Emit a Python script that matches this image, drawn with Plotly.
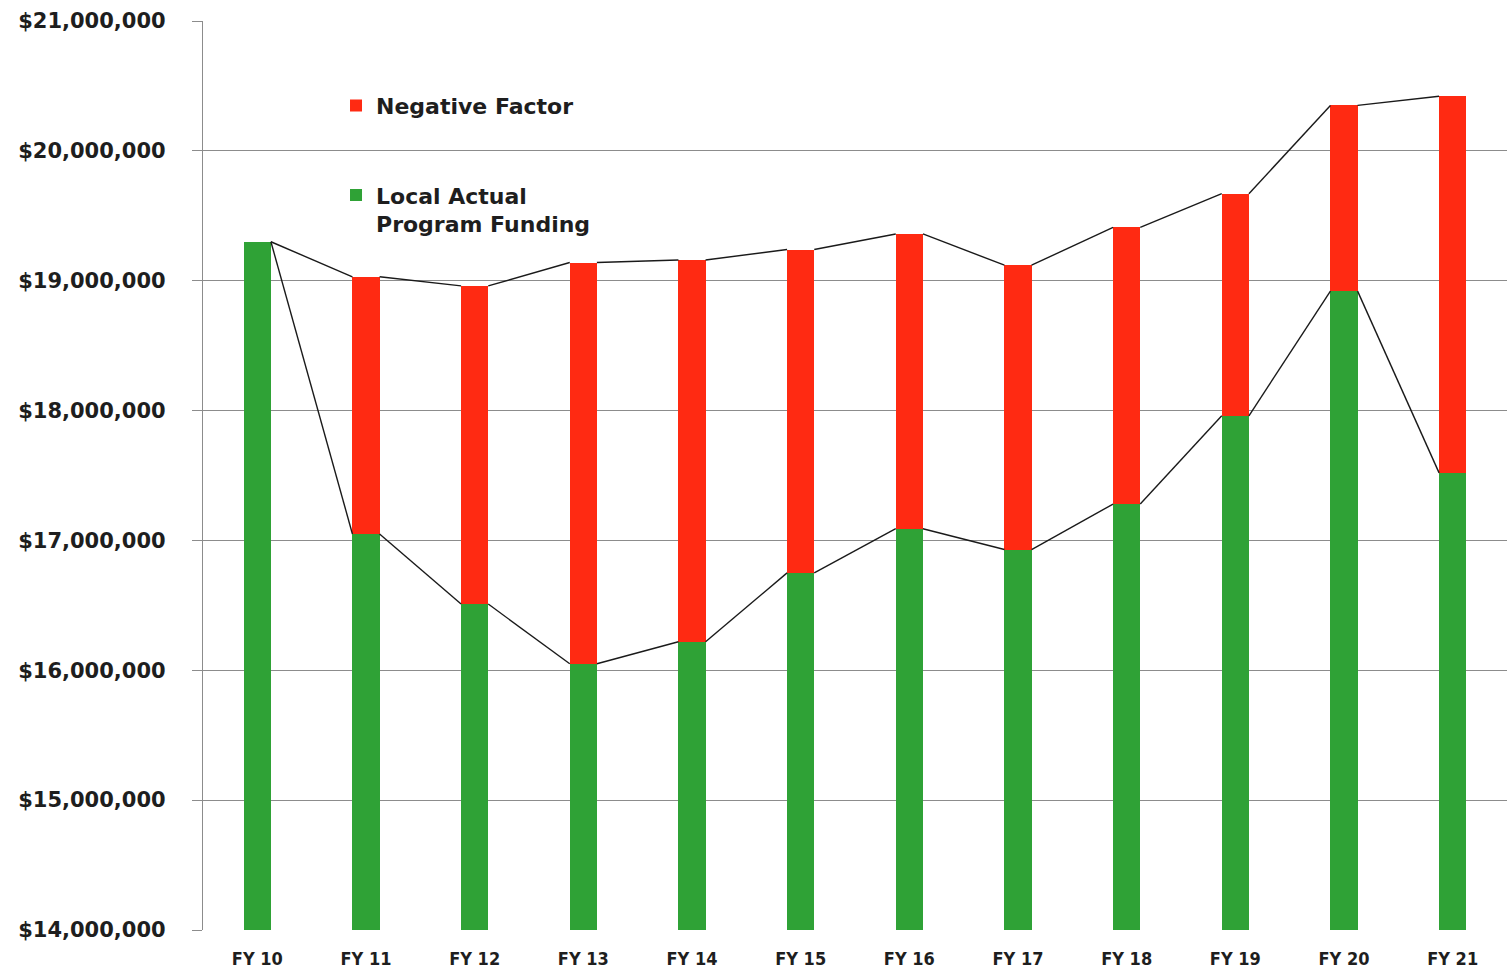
import plotly.graph_objects as go

# Fiscal years shown on the category axis
years = ["FY 10", "FY 11", "FY 12", "FY 13", "FY 14", "FY 15",
         "FY 16", "FY 17", "FY 18", "FY 19", "FY 20", "FY 21"]

# Local actual program funding (dollars)
local_funding = [19300000, 17050000, 16510000, 16050000, 16220000, 16750000,
                 17090000, 16930000, 17280000, 17960000, 18920000, 17520000]

# Full formula amount before the negative factor (top of each stacked bar)
formula_total = [19300000, 19030000, 18960000, 19140000, 19160000, 19240000,
                 19360000, 19120000, 19410000, 19670000, 20350000, 20420000]

# Negative factor = total minus what was actually funded
negative_factor = [t - l for t, l in zip(formula_total, local_funding)]

y_ticks = [14000000, 15000000, 16000000, 17000000, 18000000, 19000000, 20000000, 21000000]
y_tick_text = ["${:,.0f}".format(v) for v in y_ticks]

GREEN = "#2FA236"
RED = "#FF2A12"
BAR_W = 0.25

xpos = list(range(len(years)))

fig = go.Figure()

fig.add_trace(go.Bar(
    x=xpos, y=local_funding, width=BAR_W,
    name="Local Actual<br>Program Funding",
    marker=dict(color=GREEN, line=dict(width=0)),
    legendgroup="local", legendrank=2,
))
fig.add_trace(go.Bar(
    x=xpos, y=negative_factor, width=BAR_W,
    name="Negative Factor",
    marker=dict(color=RED, line=dict(width=0)),
    legendgroup="neg", legendrank=1,
))


def series_lines(values):
    """Connect the top-right corner of each bar to the top-left corner of the next."""
    xs, ys = [], []
    for i in range(len(values) - 1):
        xs += [xpos[i] + BAR_W / 2, xpos[i + 1] - BAR_W / 2, None]
        ys += [values[i], values[i + 1], None]
    return xs, ys


for vals in (local_funding, formula_total):
    lx, ly = series_lines(vals)
    fig.add_trace(go.Scatter(
        x=lx, y=ly, mode="lines",
        line=dict(color="#1a1a1a", width=1.4),
        showlegend=False, hoverinfo="skip",
    ))

fig.update_layout(
    barmode="stack",
    width=1507, height=970,
    margin=dict(l=203, r=0, t=21, b=40),
    paper_bgcolor="white",
    plot_bgcolor="white",
    showlegend=True,
    legend=dict(
        x=0.102, y=0.93, xanchor="left", yanchor="top",
        traceorder="grouped",
        tracegroupgap=58,
        valign="top",
        font=dict(family="DejaVu Sans", size=22, color="#1e1e1e", weight="bold"),
        bgcolor="rgba(0,0,0,0)",
    ),
    xaxis=dict(
        tickmode="array", tickvals=xpos, ticktext=years,
        range=[-0.5, len(years) - 0.5],
        showgrid=False, zeroline=False,
        showline=False, ticks="",
        tickfont=dict(family="DejaVu Sans Condensed", size=18, color="#1e1e1e", weight="bold"),
        ticklabelstandoff=16,
    ),
    yaxis=dict(
        range=[14000000, 21000000],
        tickmode="array", tickvals=y_ticks, ticktext=y_tick_text,
        showgrid=True, gridcolor="#8c8c8c", gridwidth=1.3,
        zeroline=False,
        showline=True, linecolor="#8c8c8c", linewidth=1.3,
        ticks="outside", ticklen=10, tickcolor="#8c8c8c", tickwidth=1.3,
        tickfont=dict(family="DejaVu Sans", size=21, color="#1e1e1e", weight="bold"),
        ticklabelstandoff=22,
    ),
)

fig.write_html("out.html")
